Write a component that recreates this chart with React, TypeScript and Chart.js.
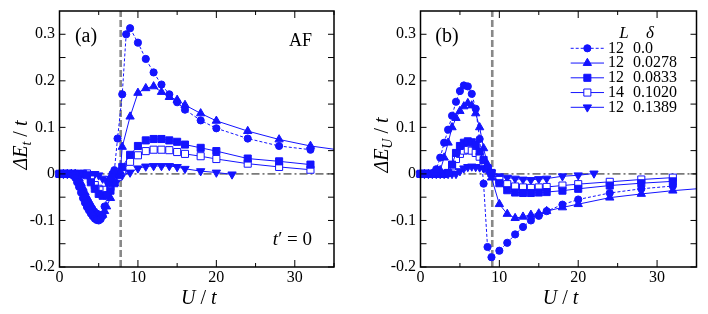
import React, { useEffect, useRef } from 'react';
import { Chart, registerables } from 'chart.js';
Chart.register(...registerables);

// ---------- data ----------
const xTicks = [0, 5, 10, 15, 20, 25, 30, 35];
const xLabels = ['0', '', '10', '', '20', '', '30', ''];
const yTicks = [-0.2, -0.15, -0.1, -0.05, 0, 0.05, 0.1, 0.15, 0.2, 0.25, 0.3];
const yLabels = ['-0.2', '', '-0.1', '', '0', '', '0.1', '', '0.2', '', '0.3'];

const legendL = ['12', '12', '12', '14', '12'];
const legendDelta = ['0.0', '0.0278', '0.0833', '0.1020', '0.1389'];

// panel (a)  ΔE_t / t
const aCircU = [0, 0.25, 0.5, 0.75, 1, 1.25, 1.5, 1.75, 2, 2.25, 2.5, 2.75, 3, 3.25, 3.5, 3.75, 4, 4.25, 4.5, 4.75, 5, 5.25, 5.5, 5.75, 6, 6.25, 6.5, 6.75, 7, 7.4, 8, 8.5, 9, 10, 11, 12, 13, 14, 15, 16, 18, 20, 24, 28, 32];
const aCircE = [0, 0, 0, 0, 0, 0, -0.001, -0.003, -0.008, -0.018, -0.028, -0.04, -0.052, -0.062, -0.071, -0.078, -0.085, -0.091, -0.096, -0.099, -0.1, -0.097, -0.09, -0.07, -0.045, -0.02, -0.01, 0, 0.008, 0.076, 0.171, 0.3, 0.313, 0.282, 0.247, 0.218, 0.192, 0.171, 0.154, 0.138, 0.115, 0.098, 0.076, 0.06, 0.052];
const aTriU = [0, 0.5, 1, 1.5, 2, 2.25, 2.5, 2.75, 3, 3.25, 3.5, 3.75, 4, 4.25, 4.5, 4.75, 5, 5.25, 5.5, 5.75, 6, 6.5, 7, 7.75, 8, 9, 10, 11, 12, 13, 14, 15, 16, 18, 20, 24, 28, 32, 38];
const aTriE = [0, 0, 0, 0, 0, -0.002, -0.01, -0.02, -0.03, -0.04, -0.05, -0.058, -0.066, -0.073, -0.08, -0.085, -0.088, -0.09, -0.088, -0.08, -0.07, -0.052, -0.02, 0.005, 0.058, 0.123, 0.174, 0.184, 0.188, 0.176, 0.165, 0.159, 0.148, 0.13, 0.114, 0.092, 0.074, 0.06, 0.046];
const aSqU = [0, 0.5, 1, 1.5, 2, 2.5, 3, 3.5, 4, 4.5, 5, 5.5, 6, 6.5, 7, 7.5, 8, 9, 10, 11, 12, 13, 14, 15, 16, 18, 20, 24, 28, 32];
const aSqE = [0, 0, 0, 0, 0, 0, 0, -0.003, -0.018, -0.032, -0.043, -0.047, -0.046, -0.036, -0.02, -0.002, 0.015, 0.041, 0.06, 0.072, 0.075, 0.075, 0.072, 0.069, 0.063, 0.056, 0.049, 0.033, 0.027, 0.02];
const aOsqU = [0, 0.5, 1, 1.5, 2, 2.5, 3, 3.5, 4, 4.5, 5, 5.5, 6, 6.5, 7, 7.5, 8, 9, 10, 11, 12, 13, 14, 15, 16, 18, 20, 24, 28, 32];
const aOsqE = [0, 0, 0, 0, 0, 0, 0, 0.001, -0.012, -0.024, -0.032, -0.035, -0.034, -0.028, -0.017, -0.006, 0.006, 0.026, 0.04, 0.049, 0.052, 0.052, 0.051, 0.047, 0.043, 0.038, 0.032, 0.022, 0.015, 0.009];
const aDnU = [0, 0.5, 1, 1.5, 2, 2.5, 3, 3.5, 4, 4.5, 5, 5.5, 6, 6.5, 7, 7.5, 8, 9, 10, 11, 12, 13, 14, 15, 16, 18, 20, 22];
const aDnE = [0, 0, 0, 0, 0, 0, 0, 0, 0, 0, -0.003, -0.01, -0.015, -0.017, -0.015, -0.01, -0.003, 0.003, 0.012, 0.016, 0.017, 0.017, 0.017, 0.015, 0.011, 0.006, 0.003, -0.001];

// panel (b)  ΔE_U / t
const bCircU = [0, 0.25, 0.5, 0.75, 1, 1.25, 1.5, 1.75, 2, 2.5, 3, 3.5, 4, 4.5, 5, 5.5, 6, 6.5, 7, 7.5, 8, 8.5, 9, 10, 11, 12, 13, 14, 15, 16, 18, 20, 24, 28, 32];
const bCircE = [0, 0, 0, 0, 0, 0, 0.001, 0.003, 0.01, 0.035, 0.067, 0.095, 0.125, 0.155, 0.178, 0.19, 0.188, 0.172, 0.14, 0.075, -0.021, -0.157, -0.179, -0.165, -0.148, -0.13, -0.114, -0.1, -0.09, -0.08, -0.066, -0.055, -0.041, -0.032, -0.026];
const bTriU = [0, 0.5, 1, 1.5, 2, 2.5, 3, 3.5, 4, 4.5, 5, 5.5, 6, 6.5, 7, 7.5, 8, 8.5, 9, 10, 11, 12, 13, 14, 15, 16, 18, 20, 24, 28, 32, 38];
const bTriE = [0, 0, 0, 0, 0.002, 0.008, 0.035, 0.067, 0.1, 0.12, 0.135, 0.145, 0.152, 0.147, 0.13, 0.1, 0.055, 0.02, -0.008, -0.065, -0.086, -0.095, -0.092, -0.088, -0.085, -0.08, -0.072, -0.065, -0.051, -0.043, -0.036, -0.028];
const bSqU = [0, 0.5, 1, 1.5, 2, 2.5, 3, 3.5, 4, 4.5, 5, 5.5, 6, 6.5, 7, 7.5, 8, 8.5, 9, 10, 11, 12, 13, 14, 15, 16, 18, 20, 24, 28, 32];
const bSqE = [0, 0, 0, 0, 0, 0, 0, 0.002, 0.02, 0.045, 0.06, 0.067, 0.07, 0.068, 0.062, 0.048, 0.03, 0.012, 0.002, -0.02, -0.035, -0.04, -0.041, -0.041, -0.04, -0.039, -0.036, -0.032, -0.025, -0.02, -0.016];
const bOsqU = [0, 0.5, 1, 1.5, 2, 2.5, 3, 3.5, 4, 4.5, 5, 5.5, 6, 6.5, 7, 7.5, 8, 8.5, 9, 10, 11, 12, 13, 14, 15, 16, 18, 20, 24, 28, 32];
const bOsqE = [0, 0, 0, 0, 0, 0, 0, 0.002, 0.016, 0.032, 0.043, 0.05, 0.052, 0.05, 0.045, 0.037, 0.025, 0.012, 0.002, -0.013, -0.022, -0.027, -0.029, -0.03, -0.029, -0.028, -0.025, -0.022, -0.017, -0.012, -0.008];
const bDnU = [0, 0.5, 1, 1.5, 2, 2.5, 3, 3.5, 4, 4.5, 5, 5.5, 6, 6.5, 7, 7.5, 8, 8.5, 9, 10, 11, 12, 13, 14, 15, 16, 18, 20, 22];
const bDnE = [0, 0, 0, 0, 0, 0, 0, 0, 0, 0, 0.006, 0.012, 0.015, 0.016, 0.015, 0.014, 0.012, 0.008, 0.003, -0.005, -0.008, -0.01, -0.012, -0.013, -0.011, -0.01, -0.005, -0.003, 0.001];

const aCritU = 7.8;
const bCritU = 9.1;

// ---------- styling ----------
const BLUE = '#1414ff';
const SERIF = '"Liberation Serif", "DejaVu Serif", serif';

type Style = { shape: string; r: number; fill: string; dash: number[] };
const STYLES: Style[] = [
  { shape: 'circle', r: 3.6, fill: BLUE, dash: [3, 2] },
  { shape: 'triangle', r: 4.8, fill: BLUE, dash: [] },
  { shape: 'rect', r: 5, fill: BLUE, dash: [] },
  { shape: 'rect', r: 5, fill: '#ffffff', dash: [] },
  { shape: 'triDown', r: 4.8, fill: BLUE, dash: [] },
];

function makeDatasets(series: [number[], number[]][]) {
  return series.map(([xs, ys], i) => {
    const s = STYLES[i];
    return {
      label: legendL[i] + ' ' + legendDelta[i],
      data: xs.map((x, k) => ({ x, y: ys[k] })),
      showLine: true,
      borderColor: BLUE,
      borderWidth: 1,
      borderDash: s.dash,
      fill: false,
      tension: 0,
      pointStyle: s.shape === 'triDown' ? 'triangle' : s.shape,
      pointRotation: s.shape === 'triDown' ? 180 : 0,
      pointRadius: s.r,
      pointBackgroundColor: s.fill,
      pointBorderColor: BLUE,
      pointBorderWidth: 1,
      clip: { left: 6, right: 0, top: 6, bottom: 6 },
    };
  });
}

function drawMarker(ctx: CanvasRenderingContext2D, s: Style, x: number, y: number) {
  ctx.save();
  ctx.setLineDash([]);
  ctx.beginPath();
  const r = s.r;
  if (s.shape === 'circle') ctx.arc(x, y, r, 0, Math.PI * 2);
  else if (s.shape === 'rect') {
    const h = r * Math.SQRT1_2;
    ctx.rect(x - h, y - h, 2 * h, 2 * h);
  } else {
    const rot = s.shape === 'triDown' ? Math.PI : 0;
    for (let k = 0; k < 3; k++) {
      const a = rot + (k * 2 * Math.PI) / 3;
      const px = x + Math.sin(a) * r;
      const py = y - Math.cos(a) * r;
      if (k === 0) ctx.moveTo(px, py);
      else ctx.lineTo(px, py);
    }
    ctx.closePath();
  }
  ctx.fillStyle = s.fill;
  ctx.fill();
  ctx.lineWidth = 1;
  ctx.strokeStyle = BLUE;
  ctx.stroke();
  ctx.restore();
}

type Part = { t: string; italic?: boolean; size: number; dy?: number };
function drawRich(ctx: CanvasRenderingContext2D, parts: Part[], x: number, y: number, align: 'left' | 'center' | 'right') {
  let total = 0;
  const widths = parts.map((p) => {
    ctx.font = `${p.italic ? 'italic ' : ''}${p.size}px ${SERIF}`;
    const w = ctx.measureText(p.t).width;
    total += w;
    return w;
  });
  let cx = align === 'left' ? x : align === 'center' ? x - total / 2 : x - total;
  ctx.textAlign = 'left';
  ctx.textBaseline = 'middle';
  parts.forEach((p, i) => {
    ctx.font = `${p.italic ? 'italic ' : ''}${p.size}px ${SERIF}`;
    ctx.fillText(p.t, cx, y + (p.dy || 0));
    cx += widths[i];
  });
}

type PanelCfg = {
  tag: string;
  crit: number;
  sub: string;
  series: [number[], number[]][];
  padLeft: number;
  padRight: number;
  af: boolean;
  legend: boolean;
};

function makePlugin(cfg: PanelCfg) {
  return {
    id: 'panelDecor' + cfg.tag,
    beforeDatasetsDraw(chart: any) {
      const ctx: CanvasRenderingContext2D = chart.ctx;
      const xs = chart.scales.x;
      const ys = chart.scales.y;
      const a = chart.chartArea;
      ctx.save();
      // zero line (dash-dot)
      ctx.strokeStyle = '#7a7a7a';
      ctx.lineWidth = 1.6;
      ctx.setLineDash([8, 3, 2, 3]);
      const y0 = ys.getPixelForValue(0);
      ctx.beginPath();
      ctx.moveTo(a.left, y0);
      ctx.lineTo(a.right, y0);
      ctx.stroke();
      // critical U dashed line
      ctx.strokeStyle = '#888888';
      ctx.lineWidth = 2.6;
      ctx.setLineDash([7, 3]);
      const xc = xs.getPixelForValue(cfg.crit);
      ctx.beginPath();
      ctx.moveTo(xc, a.bottom);
      ctx.lineTo(xc, a.top);
      ctx.stroke();
      ctx.restore();
    },
    afterDraw(chart: any) {
      const ctx: CanvasRenderingContext2D = chart.ctx;
      const xs = chart.scales.x;
      const ys = chart.scales.y;
      const a = chart.chartArea;
      ctx.save();
      ctx.setLineDash([]);
      ctx.strokeStyle = '#000';
      ctx.fillStyle = '#000';
      // ticks
      ctx.lineWidth = 1;
      xTicks.forEach((v, i) => {
        const px = xs.getPixelForValue(v);
        const len = xLabels[i] !== '' ? 7 : 4;
        ctx.beginPath();
        ctx.moveTo(px, a.bottom);
        ctx.lineTo(px, a.bottom - len);
        ctx.moveTo(px, a.top);
        ctx.lineTo(px, a.top + len);
        ctx.stroke();
      });
      yTicks.forEach((v) => {
        const py = ys.getPixelForValue(v);
        ctx.beginPath();
        ctx.moveTo(a.left, py);
        ctx.lineTo(a.left + 6, py);
        ctx.moveTo(a.right, py);
        ctx.lineTo(a.right - 6, py);
        ctx.stroke();
      });
      // frame
      ctx.lineWidth = 1.5;
      ctx.strokeRect(a.left, a.top, a.right - a.left, a.bottom - a.top);
      // tick labels
      ctx.font = `16px ${SERIF}`;
      ctx.textBaseline = 'middle';
      ctx.textAlign = 'center';
      xTicks.forEach((v, i) => {
        if (!xLabels[i]) return;
        ctx.fillText(xLabels[i], xs.getPixelForValue(v), a.bottom + 10.5);
      });
      ctx.textAlign = 'right';
      yTicks.forEach((v, i) => {
        if (!yLabels[i]) return;
        ctx.fillText(yLabels[i], a.left - 4.5, ys.getPixelForValue(v));
      });
      // x title
      const cxm = (a.left + a.right) / 2 + 2;
      drawRich(ctx, [
        { t: 'U', italic: true, size: 20 },
        { t: ' / ', size: 20 },
        { t: 't', italic: true, size: 20 },
      ], cxm, 299, 'center');
      // y title (rotated)
      ctx.save();
      ctx.translate(a.left - 37.5, 145);
      ctx.rotate(-Math.PI / 2);
      drawRich(ctx, [
        { t: 'ΔE', italic: true, size: 20 },
        { t: cfg.sub, italic: true, size: 14, dy: 5 },
        { t: ' / ', size: 20 },
        { t: 't', italic: true, size: 20 },
      ], 0, 0, 'center');
      ctx.restore();
      // panel tag
      drawRich(ctx, [{ t: cfg.tag, size: 20 }], a.left + 26.5, 37, 'center');
      if (cfg.af) {
        drawRich(ctx, [{ t: 'AF', size: 18 }], a.right - 22, 41.5, 'right');
        drawRich(ctx, [
          { t: 't', italic: true, size: 19 },
          { t: '′ = 0', size: 19 },
        ], a.right - 22, 240, 'right');
      }
      if (cfg.legend) {
        const lx0 = a.right - 125.8;
        const lx1 = a.right - 92.5;
        const mx = (lx0 + lx1) / 2;
        drawRich(ctx, [{ t: 'L', italic: true, size: 17 }], a.right - 72.5, 33.5, 'center');
        drawRich(ctx, [{ t: 'δ', italic: true, size: 17 }], a.right - 46.5, 33.5, 'center');
        STYLES.forEach((s, i) => {
          const y = 48.3 + i * 14.75;
          ctx.save();
          ctx.strokeStyle = BLUE;
          ctx.lineWidth = 1;
          ctx.setLineDash(s.dash);
          ctx.beginPath();
          ctx.moveTo(lx0, y);
          ctx.lineTo(lx1, y);
          ctx.stroke();
          ctx.restore();
          drawMarker(ctx, s, mx, y);
          ctx.fillStyle = '#000';
          drawRich(ctx, [{ t: legendL[i], size: 16 }], a.right - 88.5, y, 'left');
          drawRich(ctx, [{ t: legendDelta[i], size: 16 }], a.right - 63.5, y, 'left');
        });
      }
      ctx.restore();
    },
  };
}

function buildChart(canvas: HTMLCanvasElement, cfg: PanelCfg) {
  return new Chart(canvas, {
    type: 'scatter',
    data: { datasets: makeDatasets(cfg.series) as any },
    options: {
      animation: false,
      responsive: false,
      devicePixelRatio: 1,
      events: [],
      layout: { padding: { left: cfg.padLeft, right: cfg.padRight, top: 11, bottom: 47 } },
      plugins: { legend: { display: false }, tooltip: { enabled: false } },
      scales: {
        x: { type: 'linear', min: 0, max: 35, display: false },
        y: { type: 'linear', min: -0.2, max: 0.35, display: false },
      },
    },
    plugins: [makePlugin(cfg) as any],
  });
}

export default function App() {
  const refA = useRef<HTMLCanvasElement>(null);
  const refB = useRef<HTMLCanvasElement>(null);
  useEffect(() => {
    const ca = buildChart(refA.current!, {
      tag: '(a)',
      crit: aCritU,
      sub: 't',
      series: [[aCircU, aCircE], [aTriU, aTriE], [aSqU, aSqE], [aOsqU, aOsqE], [aDnU, aDnE]],
      padLeft: 59.5,
      padRight: 20,
      af: true,
      legend: false,
    });
    const cb = buildChart(refB.current!, {
      tag: '(b)',
      crit: bCritU,
      sub: 'U',
      series: [[bCircU, bCircE], [bTriU, bTriE], [bSqU, bSqE], [bOsqU, bOsqE], [bDnU, bDnE]],
      padLeft: 66.5,
      padRight: 11.5,
      af: false,
      legend: true,
    });
    return () => {
      ca.destroy();
      cb.destroy();
    };
  }, []);
  return (
    <div style={{ position: 'fixed', left: 0, top: 0, width: 708, height: 314, background: '#fff' }}>
      <canvas ref={refA} width={354} height={314} style={{ position: 'absolute', left: 0, top: 0, width: 354, height: 314 }} />
      <canvas ref={refB} width={354} height={314} style={{ position: 'absolute', left: 354, top: 0, width: 354, height: 314 }} />
    </div>
  );
}
